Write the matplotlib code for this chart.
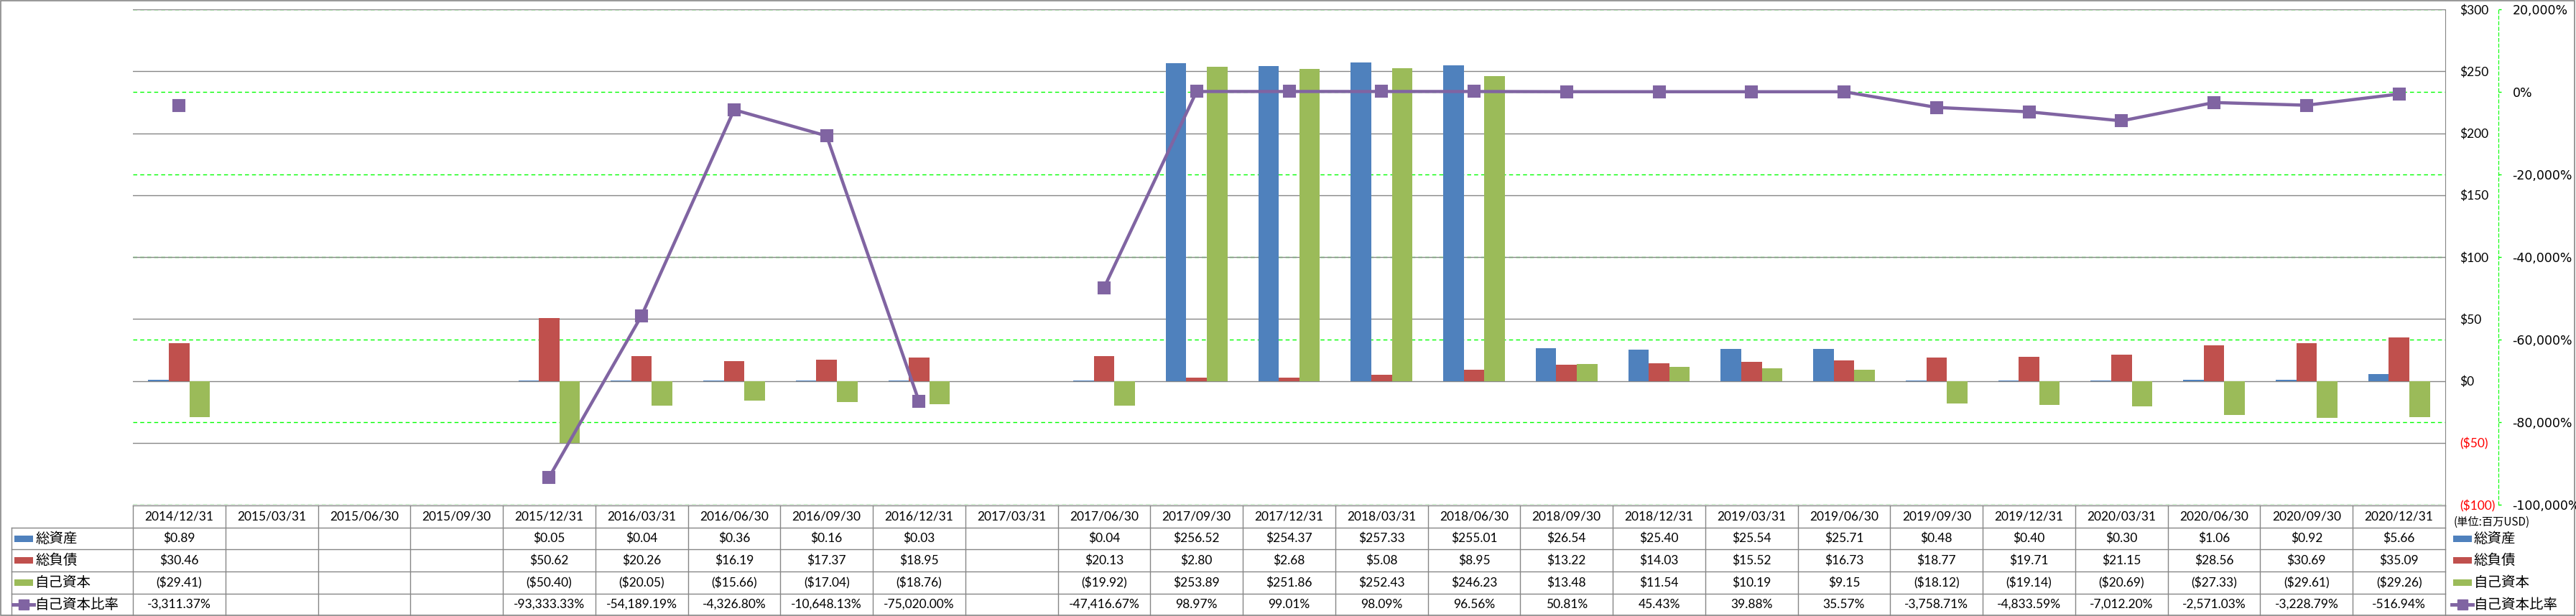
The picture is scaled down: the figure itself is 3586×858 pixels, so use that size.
import numpy as np
import matplotlib.pyplot as plt
import matplotlib.transforms as mtransforms
from matplotlib.lines import Line2D
from matplotlib.patches import Rectangle

W, H = 3586, 858
nan = np.nan

# data
dates = ['2014/12/31', '2015/03/31', '2015/06/30', '2015/09/30', '2015/12/31',
         '2016/03/31', '2016/06/30', '2016/09/30', '2016/12/31', '2017/03/31',
         '2017/06/30', '2017/09/30', '2017/12/31', '2018/03/31', '2018/06/30',
         '2018/09/30', '2018/12/31', '2019/03/31', '2019/06/30', '2019/09/30',
         '2019/12/31', '2020/03/31', '2020/06/30', '2020/09/30', '2020/12/31']
series_names = ['総資産', '総負債', '自己資本', '自己資本比率']
total_assets = [0.89, nan, nan, nan, 0.05, 0.04, 0.36, 0.16, 0.03, nan, 0.04,
                256.52, 254.37, 257.33, 255.01, 26.54, 25.40, 25.54, 25.71,
                0.48, 0.40, 0.30, 1.06, 0.92, 5.66]
total_liab = [30.46, nan, nan, nan, 50.62, 20.26, 16.19, 17.37, 18.95, nan, 20.13,
              2.80, 2.68, 5.08, 8.95, 13.22, 14.03, 15.52, 16.73,
              18.77, 19.71, 21.15, 28.56, 30.69, 35.09]
equity = [-29.41, nan, nan, nan, -50.40, -20.05, -15.66, -17.04, -18.76, nan, -19.92,
          253.89, 251.86, 252.43, 246.23, 13.48, 11.54, 10.19, 9.15,
          -18.12, -19.14, -20.69, -27.33, -29.61, -29.26]
equity_ratio = [-3311.37, nan, nan, nan, -93333.33, -54189.19, -4326.80, -10648.13,
                -75020.00, nan, -47416.67, 98.97, 99.01, 98.09, 96.56, 50.81, 45.43,
                39.88, 35.57, -3758.71, -4833.59, -7012.20, -2571.03, -3228.79, -516.94]
unit_label = '(単位:百万USD)'
usd_ticks = [-100, -50, 0, 50, 100, 150, 200, 250, 300]
pct_ticks = [-100000, -80000, -60000, -40000, -20000, 0, 20000]

colors = ['#4F81BD', '#C0504D', '#9BBB59', '#8064A2']
GRAY = '#868686'
NUM_FONT = ['Lato', 'Noto Sans CJK JP']
JP_FONT = ['Noto Sans CJK JP', 'DejaVu Sans']


def usd(v, dec=2):
    if np.isnan(v):
        return ''
    if v < 0:
        return f'(${-v:,.{dec}f})'
    return f'${v:,.{dec}f}'


def pct(v, dec=2):
    if np.isnan(v):
        return ''
    return f'{v:,.{dec}f}%'


def px(x):
    return x / W


def py(y):
    return 1 - y / H


fig = plt.figure(figsize=(W / 100, H / 100), dpi=100)
ax = fig.add_axes([px(185), py(703), px(3404) - px(185), py(13) - py(703)])
ax2 = ax.twinx()
ax.set_zorder(2)
ax2.set_zorder(1)
ax.patch.set_visible(False)

x = np.arange(len(dates))
bw = 1 / 4.5
for k, vals in enumerate([total_assets, total_liab, equity]):
    ax.bar(x + (k - 1) * bw, np.array(vals, float), bw, color=colors[k], lw=0, zorder=2)

# ratio line uses the secondary scale for y
blend = mtransforms.blended_transform_factory(ax.transData, ax2.transData)
ax.plot(x, np.array(equity_ratio, float), color=colors[3], lw=3.2, marker='s', ms=11.5,
        mew=1.5, mec=colors[3], transform=blend, zorder=3)

ax.set_xlim(-0.5, len(dates) - 0.5)
ax.set_ylim(-100, 300)
ax2.set_ylim(-100000, 20000)
ax.set_xticks([])

# primary axis (right side)
ax.yaxis.tick_right()
ax.set_yticks(usd_ticks, labels=[usd(v, 0) for v in usd_ticks])
ax.tick_params(axis='y', length=0, pad=14.4, labelsize=12.5)
for v, lbl in zip(usd_ticks, ax.get_yticklabels()):
    lbl.set_family(NUM_FONT)
    lbl.set_color('red' if v < 0 else 'black')
ax.yaxis.grid(True, color=GRAY, lw=1)
ax.set_axisbelow(True)
for s in ['left', 'top', 'bottom']:
    ax.spines[s].set_visible(False)
ax.spines['right'].set_color(GRAY)

# secondary axis
ax2.set_yticks(pct_ticks, labels=[f'{v:,.0f}%' for v in pct_ticks])
ax2.tick_params(axis='y', color='#00FF00', length=3, width=1, pad=11, labelsize=12.5)
for v, lbl in zip(pct_ticks, ax2.get_yticklabels()):
    lbl.set_family(NUM_FONT)
    lbl.set_color('red' if v < 0 else 'black')
ax2.yaxis.grid(True, color='#00FF00', lw=1, ls=(0, (4, 3)))
for s in ['left', 'top', 'bottom']:
    ax2.spines[s].set_visible(False)
ax2.spines['right'].set_position(('outward', 74 * 0.72))
ax2.spines['right'].set_color('#00FF00')
ax2.spines['right'].set_linestyle((0, (4, 3)))

# data table
tcol = mtransforms.blended_transform_factory(ax.transData, fig.transFigure)
row_edges = [704, 735, 765, 796, 827, 857]
row_mid = [(a + b) / 2 for a, b in zip(row_edges[:-1], row_edges[1:])]
x_right = fig.transFigure.inverted().transform(ax.transData.transform((len(dates) - 0.5, 0)))[0]
x_left0 = fig.transFigure.inverted().transform(ax.transData.transform((-0.5, 0)))[0]

fig.add_artist(Line2D([x_left0, x_right], [py(704)] * 2, color=GRAY, lw=1))
for ye in row_edges[1:-1]:
    fig.add_artist(Line2D([px(16), x_right], [py(ye)] * 2, color=GRAY, lw=1))
fig.add_artist(Line2D([px(16)] * 2, [py(735), py(857)], color=GRAY, lw=1))
for i in range(len(dates) + 1):
    fig.add_artist(Line2D([i - 0.5] * 2, [py(704), py(857)], color=GRAY, lw=1, transform=tcol))

for i, d in enumerate(dates):
    fig.text(i, py(row_mid[0]), d, transform=tcol, ha='center', va='center',
             fontsize=12.5, family=NUM_FONT)
rows = [[usd(v) for v in total_assets], [usd(v) for v in total_liab],
        [usd(v) for v in equity], [pct(v) for v in equity_ratio]]
for r, cells in enumerate(rows):
    for i, c in enumerate(cells):
        fig.text(i, py(row_mid[r + 1]), c, transform=tcol, ha='center', va='center',
                 fontsize=12.5, family=NUM_FONT)


def legend_key(k, x0, yc):
    if k < 3:
        fig.add_artist(Rectangle((px(x0), py(yc + 4.5)), 26 / W, 9 / H, color=colors[k],
                                 lw=0, transform=fig.transFigure))
    else:
        fig.add_artist(Line2D([px(x0 - 2), px(x0 + 27)], [py(yc)] * 2, color=colors[3], lw=3.5))
        fig.add_artist(Line2D([px(x0 + 12.5)], [py(yc)], color=colors[3], marker='s', ms=9.5))


for k, name in enumerate(series_names):
    yc = row_mid[k + 1]
    legend_key(k, 20, yc)
    fig.text(px(49), py(yc), name, ha='left', va='center', fontsize=14, family=JP_FONT)
    legend_key(k, 3415, yc)
    fig.text(px(3444), py(yc), name, ha='left', va='center', fontsize=14, family=JP_FONT)

fig.text(px(3416), py(727), unit_label, ha='left', va='center', fontsize=11, family=JP_FONT)

# chart border
fig.add_artist(Rectangle((px(1), py(857)), px(3584) - px(1), py(1) - py(857), fill=False,
                         edgecolor=GRAY, lw=1.2, transform=fig.transFigure))

fig.savefig('out.png', dpi=100)
plt.close(fig)
